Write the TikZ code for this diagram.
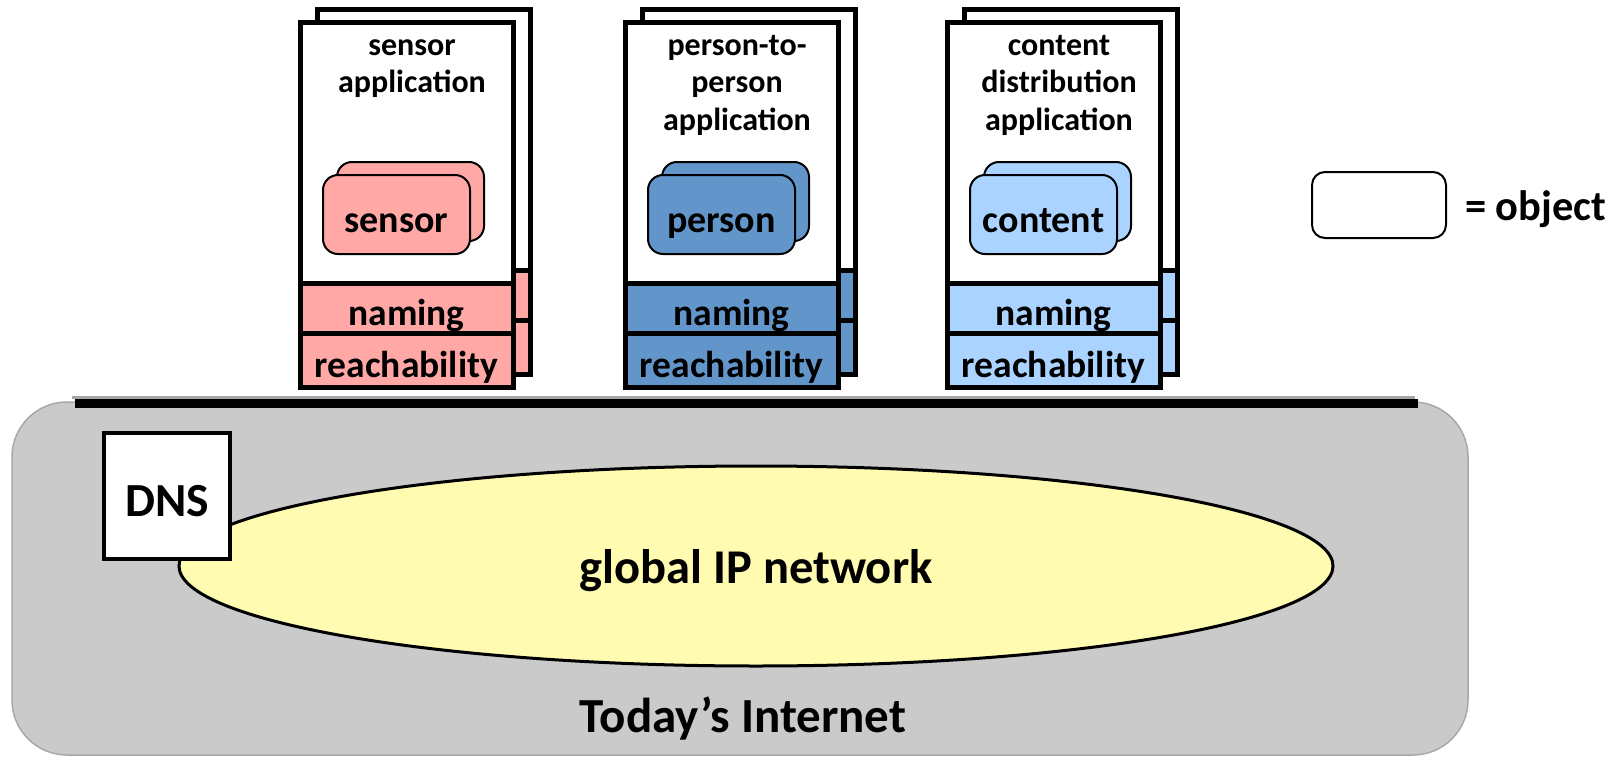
\documentclass[tikz,border=0pt]{standalone}
\usepackage{fontspec}
\setmainfont{Carlito}
\usetikzlibrary{shapes.geometric}

\definecolor{sensorfill}{HTML}{FFA8A5}
\definecolor{personfill}{HTML}{6296CA}
\definecolor{contentfill}{HTML}{AAD4FF}
\definecolor{netfill}{HTML}{FFFBB0}
\definecolor{internetfill}{HTML}{CACACA}
\definecolor{internetedge}{HTML}{A8A8A8}

\tikzset{
  layer/.style={rectangle, draw=black, line width=5pt, outer sep=0pt, inner sep=0pt,
    anchor=north west, minimum width=213pt},
  appwin/.style={layer, fill=white, minimum height=260pt},
  namebar/.style={layer, minimum height=50pt},
  reachbar/.style={layer, minimum height=54pt},
  barlabel/.style={font=\fontsize{37.5}{45}\selectfont\bfseries, text height=34pt, text depth=0pt},
  objbox/.style={rectangle, draw=black, line width=2pt, rounded corners=15pt, outer sep=0pt,
    inner sep=0pt, anchor=north west, minimum width=147pt, minimum height=79pt,
    font=\fontsize{38}{45}\selectfont\bfseries, text height=36pt, text depth=0pt},
  apptitle/.style={anchor=north, align=center, inner sep=0pt,
    font=\fontsize{32}{37.5}\selectfont\bfseries},
  internet/.style={rectangle, rounded corners=55pt, fill=internetfill, draw=internetedge,
    line width=1.5pt, minimum width=1456pt, minimum height=353pt, inner sep=0pt},
  biglabel/.style={font=\fontsize{49}{58}\selectfont\bfseries, inner sep=0pt},
  ipnet/.style={ellipse, draw=black, line width=3pt, fill=netfill, minimum width=1154pt,
    minimum height=200pt, inner sep=0pt, outer sep=0pt,
    font=\fontsize{48.5}{58}\selectfont\bfseries, text height=34pt, text depth=0pt},
  dnsbox/.style={rectangle, draw=black, line width=4pt, fill=white, minimum size=126pt,
    inner sep=0pt, font=\fontsize{47.5}{56}\selectfont\bfseries, text height=40pt, text depth=0pt},
  busbar/.style={line width=9pt, black},
  busshade/.style={line width=3pt, black!35},
}

\begin{document}
\begin{tikzpicture}[x=1pt,y=-1pt]
\useasboundingbox (0,0) rectangle (1619,757);

% the existing Internet underneath
\node[internet] (internet) at (740,578.5) {};
\node[biglabel, anchor=base] (internet-label) at (743,732) {Today’s Internet};

% common interface bar on top of it
\coordinate (bar-w) at (75,403.5);
\coordinate (bar-e) at (1418,403.5);
\draw[busshade] ([shift={(-3,-6)}]bar-w) -- ([shift={(-3,-6)}]bar-e);
\draw[busbar] (bar-w) -- (bar-e);

\node[ipnet] (net) at (756,566) {global IP network};
\node[dnsbox] (dns) at (167,496) {DNS};

% application stacks: back copy, front copy, objects, title
\foreach \L/\c/\t/\o/\n in {
    300/sensorfill/{sensor\\application}/sensor/sen,
    625/personfill/{person-to-\\person\\application}/person/per,
    947/contentfill/{content\\distribution\\application}/content/con}{
  \node[appwin]          (\n-back-win)   at ({\L+17},10)  {};
  \node[namebar, fill=\c]  (\n-back-name)  at ({\L+17},270) {};
  \node[reachbar, fill=\c] (\n-back-reach) at ({\L+17},320) {};
  \node[appwin]          (\n-win)   at (\L,23)  {};
  \node[namebar, fill=\c, barlabel]  (\n-name)  at (\L,283) {naming};
  \node[reachbar, fill=\c, barlabel] (\n-reach) at (\L,333) {reachability};
  \node[objbox, fill=\c] (\n-obj-back) at ({\L+37},162) {};
  \node[objbox, fill=\c] (\n-obj)      at ({\L+23},175) {\o};
  \node[apptitle] (\n-title) at ({\L+112},29) {\strut\t};
}

% legend
\node[objbox, anchor=center, fill=white, rounded corners=13pt, minimum width=134pt,
      minimum height=66pt] (legend) at (1379,205) {};
\node[anchor=base west, inner sep=0pt, font=\fontsize{42.5}{50}\selectfont\bfseries]
      (legend-label) at (1465,220) {= object};
\end{tikzpicture}
\end{document}
